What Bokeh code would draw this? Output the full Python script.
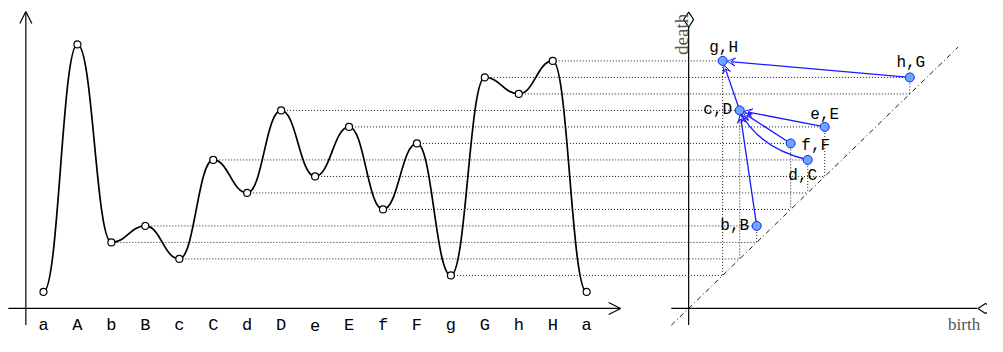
import math
from bokeh.plotting import figure
from bokeh.models import Range1d, Arrow, OpenHead, VeeHead
from bokeh.core.properties import value
from bokeh.embed import file_html
from bokeh.resources import INLINE

# ---------------- data ----------------
names = ["a", "A", "b", "B", "c", "C", "d", "D", "e", "E", "f", "F", "g", "G", "h", "H", "a"]
levels = [0, 15, 3, 4, 2, 8, 6, 11, 7, 10, 5, 9, 1, 13, 12, 14, 0]

pair_birth = ["g", "h", "c", "e", "f", "d", "b"]
pair_death = ["H", "G", "D", "E", "F", "C", "B"]
birth_vals = [1, 12, 2, 7, 5, 6, 3]
death_vals = [14, 13, 11, 10, 9, 8, 4]

edge_src = ["h,G", "c,D", "e,E", "f,F", "d,C", "b,B"]
edge_dst = ["g,H", "g,H", "c,D", "c,D", "c,D", "c,D"]
edge_curved = [False, False, False, False, True, False]
curve_ctrl = (3.05, 8.75)  # control point of the curved edge (diagram units)

# ---------------- layout / style ----------------
XR = (-1.2667, 27.806)      # left plot: index units
YR = (-2.7016, 17.662)      # shared: level units
PR = (-41.455, 16.569)      # persistence diagram: level units
BLUE = "#1a1aff"
PT_FILL = "#66aaff"
DOT_COL = "#1a1a1a"
MONO = value("Liberation Mono")
SERIF = value("Liberation Serif")

p = figure(width=987, height=336, x_range=Range1d(*XR), y_range=Range1d(*YR),
           x_axis_location=None, y_axis_location=None, output_backend="svg",
           toolbar_location=None, min_border=0, outline_line_color=None,
           background_fill_color="white", border_fill_color="white")
p.grid.grid_line_color = None
p.extra_x_ranges = {"pd": Range1d(*PR)}


def to_pd(x):
    return PR[0] + (x - XR[0]) * (PR[1] - PR[0]) / (XR[1] - XR[0])


idx = list(range(len(names)))
first_idx = {}
for i, n in enumerate(names):
    first_idx.setdefault(n, i)

# ---- horizontal dotted connectors ----
hx0, hx1, hy = [], [], []
for b, d, bv, dv in zip(pair_birth, pair_death, birth_vals, death_vals):
    hx0.append(to_pd(first_idx[d])); hx1.append(bv); hy.append(dv)
    hx0.append(to_pd(first_idx[b])); hx1.append(bv); hy.append(bv)
p.segment(x0=hx0, y0=hy, x1=hx1, y1=hy, x_range_name="pd",
          line_color=DOT_COL, line_width=1, line_dash="1 2")

# ---- vertical dotted connectors ----
p.segment(x0=birth_vals, y0=death_vals, x1=birth_vals, y1=birth_vals, x_range_name="pd",
          line_color=DOT_COL, line_width=1, line_dash="1 2")

# ---- diagonal ----
p.line(x=[-2.02, 14.85], y=[-2.02, 14.85], x_range_name="pd",
       line_color="black", line_width=0.9, line_dash="5 3 1 3")

# ---- left axes ----
p.add_layout(Arrow(end=OpenHead(size=12, line_width=1.2, line_color="black"),
                   x_start=-1.035, y_start=-1, x_end=17.0, y_end=-1,
                   line_width=1.2, line_color="black"))
p.add_layout(Arrow(end=OpenHead(size=12, line_width=1.2, line_color="black"),
                   x_start=-0.52, y_start=-2.0, x_end=-0.52, y_end=17.0,
                   line_width=1.2, line_color="black"))

# ---- diagram axes ----
p.segment(x0=[-1, -2.02], y0=[-2.0, -1], x1=[-1, 15.97], y1=[16.06, -1], x_range_name="pd",
          line_color="black", line_width=1.2)
p.scatter(x=[-1, 16.45], y=[16.5, -1], angle=[0, math.pi / 2], marker="diamond", size=15,
          x_range_name="pd", fill_color="white", line_color="black", line_width=1.1)

# ---- curve ----
k = 0.45
x0 = idx[:-1]; x1 = idx[1:]
y0 = levels[:-1]; y1 = levels[1:]
p.bezier(x0=x0, y0=y0, x1=x1, y1=y1,
         cx0=[x + k for x in x0], cy0=y0, cx1=[x - k for x in x1], cy1=y1,
         line_color="black", line_width=1.7)
p.scatter(x=idx, y=levels, size=7, fill_color="white", line_color="black", line_width=1.2)

p.text(x=idx, y=[-2.02] * len(idx), text=names, text_font=MONO, text_font_size="17px",
       text_align="center", text_baseline="middle", text_color="black")

# ---- diagram edges ----
lab = [f"{b},{d}" for b, d in zip(pair_birth, pair_death)]
pos = {l: (bv, dv) for l, bv, dv in zip(lab, birth_vals, death_vals)}
R = 0.27
for s, t, cv in zip(edge_src, edge_dst, edge_curved):
    sx, sy = pos[s]; tx, ty = pos[t]
    if cv:
        cx, cy = curve_ctrl
        p.quadratic(x0=[sx], y0=[sy], x1=[tx], y1=[ty], cx=[cx], cy=[cy], x_range_name="pd",
                    line_color=BLUE, line_width=1.3)
        dx, dy = tx - cx, ty - cy
        L = math.hypot(dx, dy)
        a = Arrow(x_start=cx, y_start=cy, x_end=tx - R * dx / L, y_end=ty - R * dy / L,
                  x_range_name="pd", line_alpha=0,
                  end=VeeHead(size=8, fill_color="white", line_color=BLUE, line_width=1))
    else:
        dx, dy = tx - sx, ty - sy
        L = math.hypot(dx, dy)
        a = Arrow(x_start=sx, y_start=sy, x_end=tx - R * dx / L, y_end=ty - R * dy / L,
                  x_range_name="pd", line_color=BLUE, line_width=1.3,
                  end=VeeHead(size=8, fill_color="white", line_color=BLUE, line_width=1))
    a.level = "underlay"
    p.add_layout(a)

p.scatter(x=birth_vals, y=death_vals, x_range_name="pd", size=9,
          fill_color=PT_FILL, line_color=BLUE, line_width=1)

# ---- diagram labels ----
lab_dx = [1, 1, -22, 0, 25, -5, -22]
lab_dy = [-13, -14, 0, -12, 3, 16, 0]
p.text(x=birth_vals, y=death_vals, text=lab, x_range_name="pd",
       x_offset=lab_dx, y_offset=lab_dy, text_font=MONO, text_font_size="16px",
       text_align="center", text_baseline="middle", text_color="black")

p.text(x=[-1], y=[14.36], text=["death"], angle=[math.pi / 2], x_offset=[-7], x_range_name="pd",
       text_font=SERIF, text_font_size="19px", text_color="#555555",
       text_align="left", text_baseline="alphabetic")
p.text(x=[14.25], y=[-2.0], text=["birth"], x_range_name="pd",
       text_font=SERIF, text_font_size="17px", text_color="#555555",
       text_align="left", text_baseline="middle")

open("out.html", "w").write(file_html(p, INLINE))
